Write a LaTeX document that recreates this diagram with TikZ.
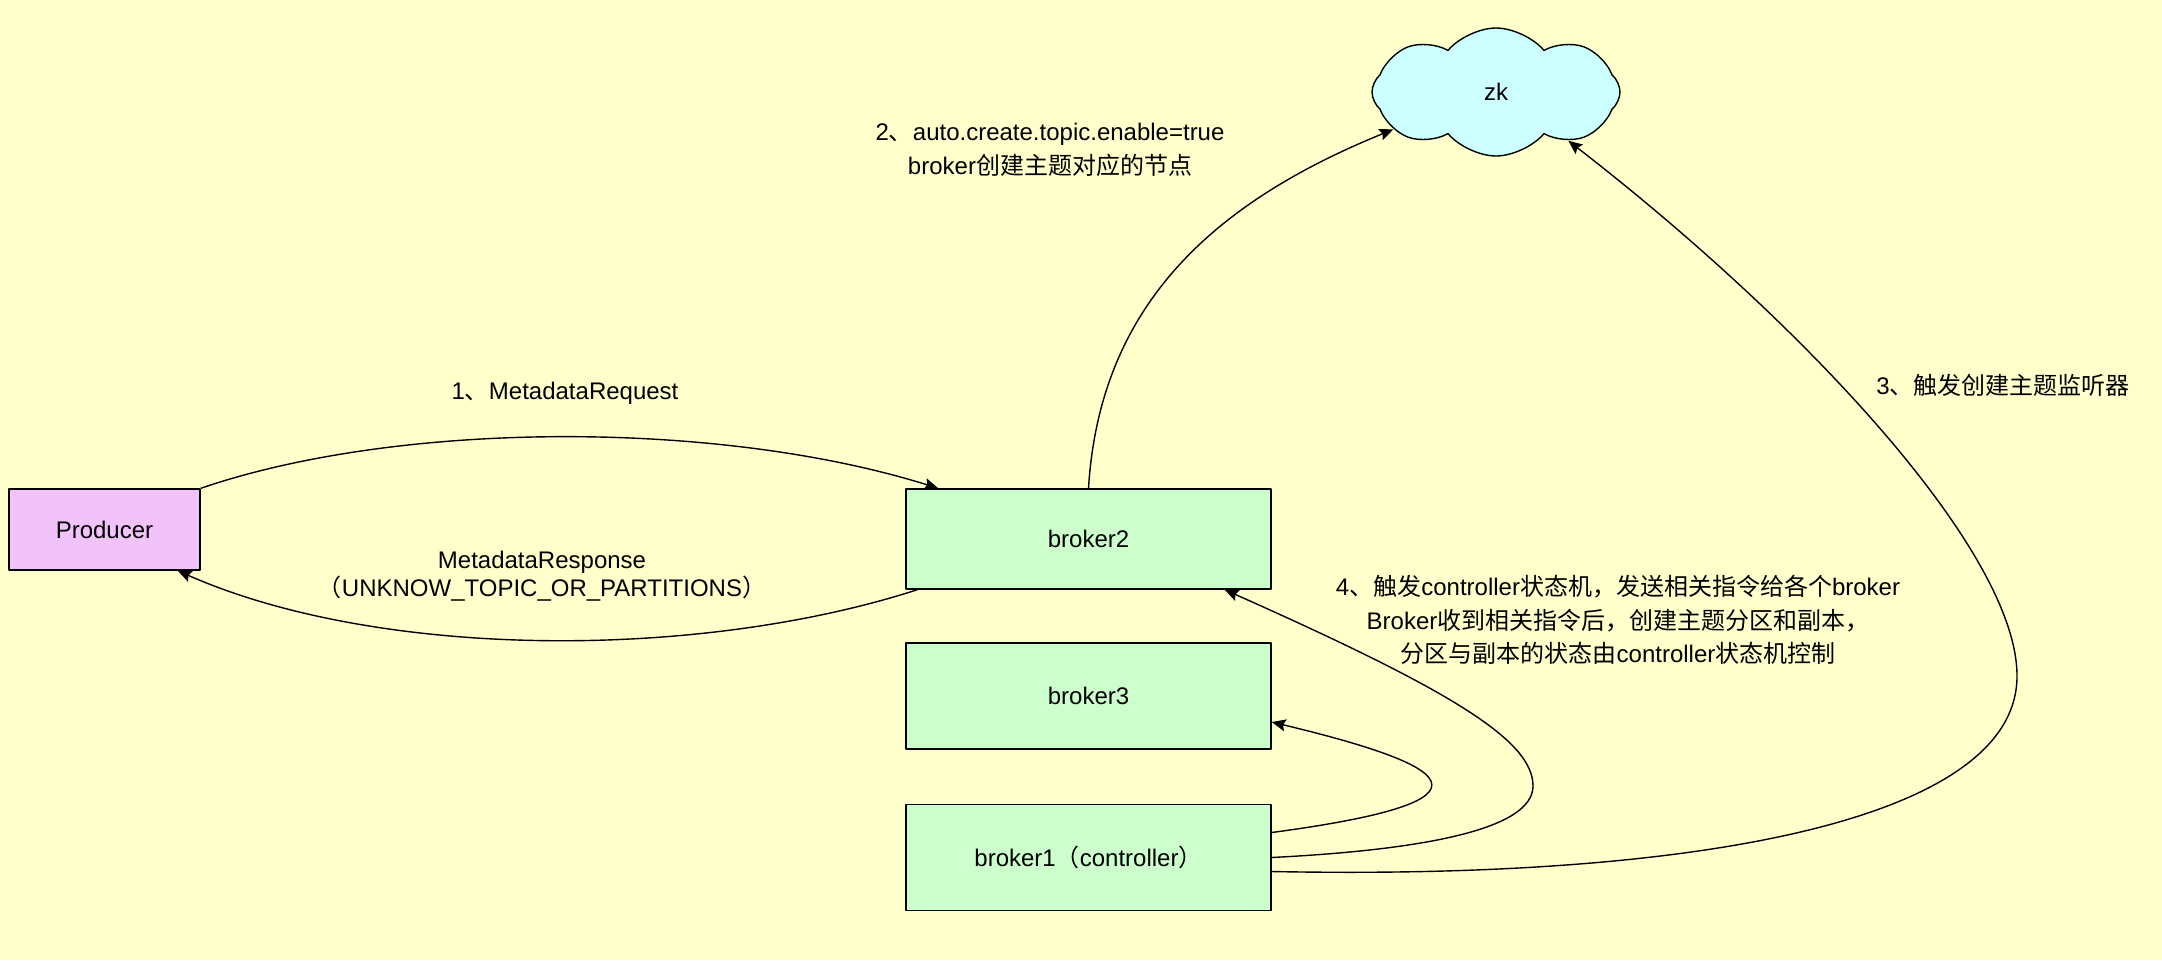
\documentclass[tikz,border=0pt]{standalone}
\usepackage{fontspec}
\setmainfont{Liberation Sans}
\newfontfamily\cjk{Noto Sans CJK SC}
\newcommand{\zh}[1]{{\cjk #1}}
\usetikzlibrary{arrows.meta,shapes.symbols,calc}
\definecolor{bgyellow}{RGB}{255,255,204}
\definecolor{prodpink}{RGB}{242,194,250}
\definecolor{brokergreen}{RGB}{204,255,204}
\definecolor{zkcyan}{RGB}{204,255,255}
\begin{document}
\begin{tikzpicture}[x=0.5pt, y=-0.5pt, font=\fontsize{12}{14}\selectfont, line join=round, >={Stealth[length=7pt,width=6pt,inset=1.2pt]},
  box/.style={draw, line width=0.7pt, minimum width=182.5pt, minimum height=53pt, inner sep=0pt},
  brokerbox/.style={box, fill=brokergreen},
  edge/.style={->, line width=0.7pt},
  lbl/.style={align=center, inner sep=0pt},
  lbltall/.style={lbl, font=\fontsize{12}{16.8}\selectfont}]
\fill[bgyellow] (0,0) rectangle (2162,960);
\useasboundingbox (0,0) rectangle (2162,960);
% nodes
\node[box, fill=prodpink, minimum width=95.5pt, minimum height=40.5pt] (producer) at (104.5,529.5) {Producer};
\node[brokerbox, minimum height=50pt] (broker2) at (1088.5,539) {broker2};
\node[brokerbox] (broker3) at (1088.5,696) {broker3};
\node[brokerbox] (broker1) at (1088.5,857.5) {broker1\zh{（}controller\zh{）}};
\node[cloud, draw, fill=zkcyan, line width=0.7pt, cloud puffs=8, cloud puff arc=100, cloud ignores aspect, minimum width=124pt, minimum height=64pt] (zk) at (1496,92) {zk};
% labels
\node[lbl] (req) at (565,393) {1\zh{、}MetadataRequest};
\node[lbl] (resp) at (542,576) {MetadataResponse\\\zh{（}UNKNOW\_TOPIC\_OR\_PARTITIONS\zh{）}};
\node[lbltall] (auto) at (1050,150) {2\zh{、}auto.create.topic.enable=true\\broker\zh{创建主题对应的节点}};
\node[lbl] (watch) at (2003,385) {3\zh{、触发创建主题监听器}};
\node[lbltall] (ctrl) at (1618,620) {4\zh{、触发}controller\zh{状态机，发送相关指令给各个}broker\\Broker\zh{收到相关指令后，创建主题分区和副本，}\\\zh{分区与副本的状态由}controller\zh{状态机控制}};
% connectors
\draw[edge] (producer.north east) .. controls (400,420) and (720,420) .. ($(broker2.north west)+(33,0)$);
\draw[edge] ($(broker2.south west)+(12,0)$) .. controls (700,660) and (380,660) .. ($(producer.south east)+(-23,0)$);
\draw[edge] (broker2.north) .. controls (1100,300) and (1220,200) .. (zk.200);
\draw[edge] ($(broker1.east)+(0,14)$) .. controls (1700,880) and (2017,820) .. (2017,676) .. controls (2017,550) and (1800,320) .. (zk.-34);
\draw[edge] (broker1.east) .. controls (1420,850) and (1533,830) .. (1533,786) .. controls (1533,740) and (1450,690) .. ($(broker2.south east)+(-47,0)$);
\draw[edge] ($(broker1.east)+(0,-25)$) .. controls (1515,800) and (1450,765) .. ($(broker3.east)+(0,26)$);
\end{tikzpicture}
\end{document}
